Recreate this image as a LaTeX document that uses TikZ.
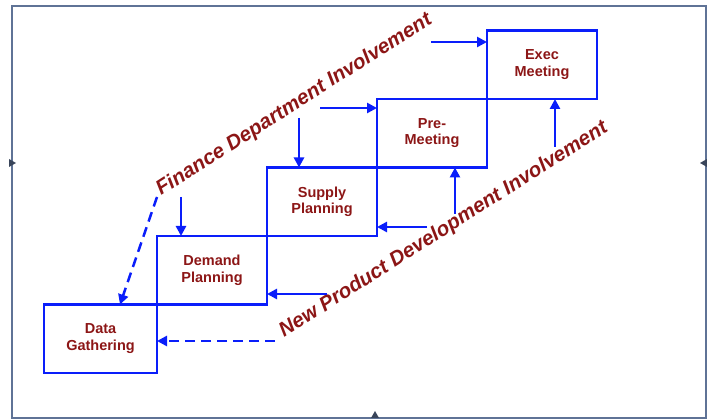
\documentclass[tikz,border=0pt]{standalone}
\usepackage{fontspec}
\setmainfont{Liberation Sans}
\usetikzlibrary{positioning,arrows.meta}

\definecolor{darkred}{RGB}{140,22,22}
\definecolor{boxblue}{RGB}{10,30,250}
\definecolor{framegray}{RGB}{95,115,150}

\tikzset{
  stepbox/.style={draw=boxblue, line width=2.5pt, minimum width=110pt,
    minimum height=68.5pt, inner sep=0pt, outer sep=0pt, align=center,
    text=darkred, font=\fontsize{14.5}{16.5}\selectfont\bfseries},
  flow/.style={draw=boxblue, line width=2.5pt,
    -{Triangle[length=10pt,width=10pt]}},
  flowdash/.style={flow, dash pattern=on 10pt off 6pt},
  involve/.style={text=darkred, inner sep=0pt,
    font=\fontsize{20.5}{24}\selectfont\bfseries\itshape}
}

\begin{document}
\begin{tikzpicture}[x=1pt,y=1pt]
  \useasboundingbox (0,0) rectangle (707,420);
  % slide frame
  \draw[framegray, line width=2pt] (11.5,2) rectangle (705.5,414);
  \fill[framegray!60!black] (9,253) -- (16,257) -- (9,261) -- cycle;
  \fill[framegray!60!black] (707,253) -- (700,257) -- (707,261) -- cycle;
  \fill[framegray!60!black] (371,2) -- (375,9) -- (379,2) -- cycle;

  % the five steps
  \node[stepbox, minimum width=113pt, anchor=south west] (data) at (44,47) {Data\\Gathering};
  \node[stepbox, above right=0pt of data] (demand) {Demand\\Planning};
  \node[stepbox, above right=0pt of demand] (supply) {Supply\\Planning};
  \node[stepbox, above right=0pt of supply] (pre) {Pre-\\Meeting};
  \node[stepbox, above right=0pt of pre] (exec) {Exec\\Meeting};

  % involvement labels
  \node[involve, anchor=base west, rotate=32.5] (finance) at (161,224) {Finance Department Involvement};
  \node[involve, anchor=base west, rotate=32.5] (npd) at (284,82) {New Product Development Involvement};

  % finance arrows
  \coordinate (fin0) at (157,223);
  \coordinate (fin1) at (181,223);
  \coordinate (fin2) at (299,302);
  \coordinate (fin3) at (320,312);
  \coordinate (fin4) at (431,378);
  \draw[flowdash] (fin0) -- (120,0 |- data.north);
  \draw[flow] (fin1) -- (fin1 |- demand.north);
  \draw[flow] (fin2) -- (fin2 |- supply.north);
  \draw[flow] (fin3) -- (fin3 -| pre.west);
  \draw[flow] (fin4) -- (fin4 -| exec.west);

  % new product development arrows
  \coordinate (npd0) at (275,79);
  \coordinate (npd1) at (327,126);
  \coordinate (npd2) at (427,193);
  \coordinate (npd3) at (455,206);
  \coordinate (npd4) at (555,273);
  \draw[flowdash] (npd0) -- (npd0 -| data.east);
  \draw[flow] (npd1) -- (npd1 -| demand.east);
  \draw[flow] (npd2) -- (npd2 -| supply.east);
  \draw[flow] (npd3) -- (npd3 |- pre.south);
  \draw[flow] (npd4) -- (npd4 |- exec.south);
\end{tikzpicture}
\end{document}
